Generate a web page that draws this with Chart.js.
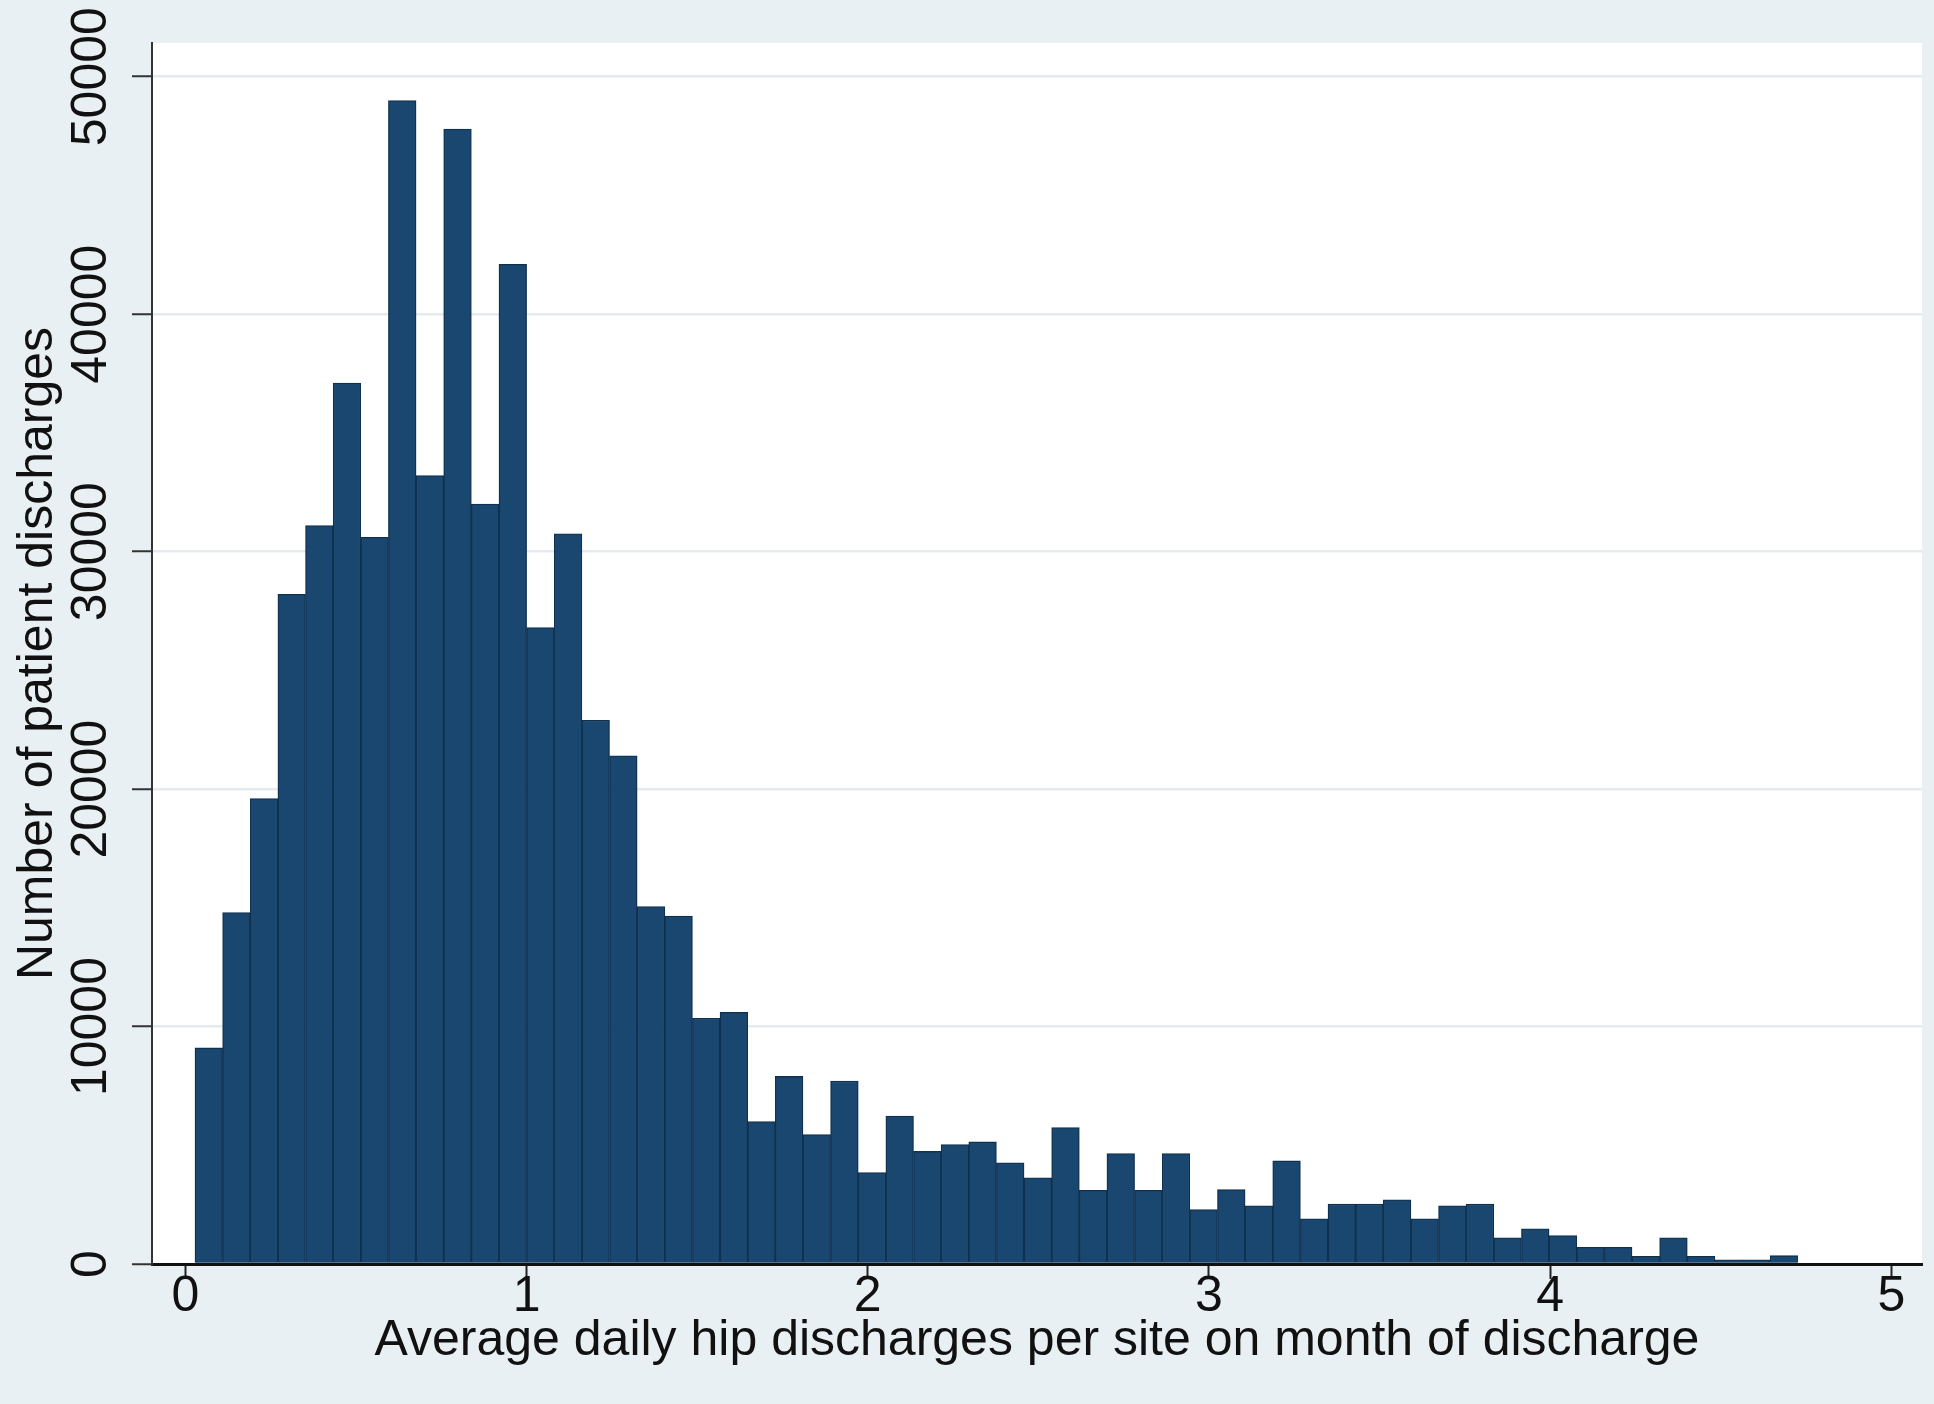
<!DOCTYPE html>
<html>
<head>
<meta charset="utf-8">
<script src="https://cdn.jsdelivr.net/npm/chart.js@4.4.1/dist/chart.umd.min.js"></script>
<style>
html,body{margin:0;padding:0;background:#e9f0f3;}
canvas{display:block;}
</style>
</head>
<body>
<canvas id="c" width="1934" height="1404"></canvas>
<script>
// Histogram bin edges (average daily hip discharges per site)
const binEdges = [0.028, 0.109, 0.190, 0.271, 0.352, 0.433, 0.514, 0.595, 0.676, 0.757,
  0.838, 0.919, 1.000, 1.081, 1.162, 1.243, 1.324, 1.405, 1.486, 1.567,
  1.648, 1.729, 1.810, 1.891, 1.972, 2.053, 2.134, 2.215, 2.296, 2.377,
  2.458, 2.539, 2.620, 2.701, 2.782, 2.863, 2.944, 3.025, 3.106, 3.187,
  3.268, 3.349, 3.430, 3.511, 3.592, 3.673, 3.754, 3.835, 3.916, 3.997,
  4.078, 4.159, 4.240, 4.321, 4.402, 4.483, 4.564, 4.645, 4.726];

// Number of patient discharges in each bin
const counts = [9100, 14800, 19600, 28200, 31100, 37100, 30600, 49000, 33200, 47800,
  32000, 42100, 26800, 30750, 22900, 21400, 15050, 14650, 10350, 10600,
  6000, 7900, 5450, 7700, 3850, 6230, 4740, 5030, 5140, 4260,
  3630, 5750, 3100, 4650, 3100, 4650, 2290, 3130, 2450, 4340,
  1900, 2520, 2520, 2700, 1900, 2450, 2520, 1100, 1480, 1200,
  700, 700, 320, 1100, 320, 180, 180, 350];

const xTicks = [0, 1, 2, 3, 4, 5];
const yTicks = [0, 10000, 20000, 30000, 40000, 50000];
const xTitle = 'Average daily hip discharges per site on month of discharge';
const yTitle = 'Number of patient discharges';

const points = counts.map((c, i) => ({ x: (binEdges[i] + binEdges[i + 1]) / 2, y: c }));

Chart.defaults.font.family = "'Liberation Sans', Arial, Helvetica, sans-serif";
Chart.defaults.color = '#111111';

const bgPlugin = {
  id: 'bg',
  beforeDraw(chart) {
    const { ctx, chartArea: a } = chart;
    ctx.save();
    ctx.fillStyle = '#e9f0f3';
    ctx.fillRect(0, 0, chart.width, chart.height);
    ctx.fillStyle = '#ffffff';
    ctx.fillRect(a.left, a.top, a.right - a.left, a.bottom - a.top);
    ctx.restore();
  }
};

new Chart(document.getElementById('c'), {
  type: 'bar',
  data: {
    datasets: [{
      data: points,
      backgroundColor: '#1a476f',
      borderColor: '#10304f',
      borderWidth: 1.3,
      barPercentage: 1,
      categoryPercentage: 1
    }]
  },
  plugins: [bgPlugin],
  options: {
    responsive: false,
    animation: false,
    devicePixelRatio: 1,
    layout: { padding: { left: 0, top: 43, right: 12, bottom: 0 } },
    plugins: { legend: { display: false }, tooltip: { enabled: false } },
    scales: {
      x: {
        type: 'linear',
        min: -0.098,
        max: 5.09,
        offset: false,
        z: 1,
        afterBuildTicks: s => { s.ticks = xTicks.map(v => ({ value: v })); },
        afterFit: s => { s.height = 140; },
        grid: { offset: false, drawOnChartArea: false, drawTicks: true, tickLength: 15, tickWidth: 2, tickColor: '#222' },
        border: { display: true, color: '#111', width: 3 },
        ticks: { font: { size: 50 }, color: '#111', padding: -12, maxRotation: 0, autoSkip: false,
                 callback: v => String(v) },
        title: { display: true, text: xTitle, font: { size: 50 }, color: '#111',
                 padding: { top: 0, bottom: 33 } }
      },
      y: {
        type: 'linear',
        min: 0,
        max: 51420,
        afterBuildTicks: s => { s.ticks = yTicks.map(v => ({ value: v })); },
        afterFit: s => { s.width = 152; },
        grid: { color: '#e3ebee', lineWidth: 2.5, tickLength: 20, tickWidth: 2, tickColor: '#333' },
        border: { display: true, color: '#333', width: 2 },
        ticks: { minRotation: 90, maxRotation: 90, crossAlign: 'center', padding: -30,
                 font: { size: 50 }, color: '#111', autoSkip: false, callback: v => String(v) },
        title: { display: true, text: yTitle, font: { size: 50 }, color: '#111',
                 padding: { top: 8, bottom: 0 } }
      }
    }
  }
});
</script>
</body>
</html>
